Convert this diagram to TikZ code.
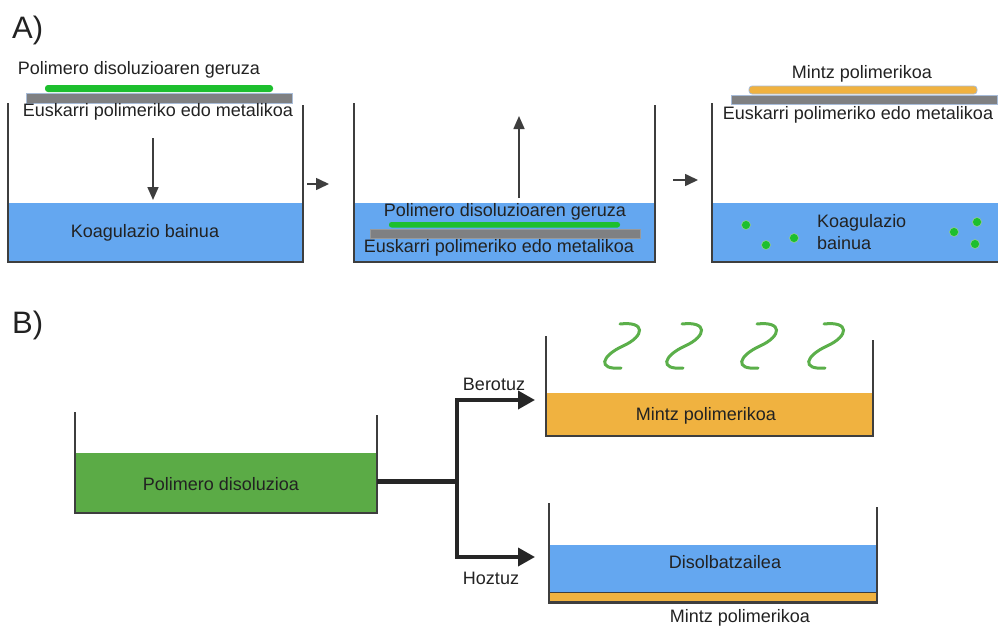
\documentclass[tikz,border=0pt]{standalone}
\usepackage{fontspec}
\setmainfont{Liberation Sans}
\usetikzlibrary{arrows.meta}
\definecolor{wall}{HTML}{3E3E3E}
\definecolor{water}{HTML}{64A7F0}
\definecolor{sol}{HTML}{5BAB46}
\definecolor{mem}{HTML}{F0B240}
\definecolor{film}{HTML}{1DBF2E}
\definecolor{support}{HTML}{7F8082}
\definecolor{supedge}{HTML}{A8BCD8}
\definecolor{txt}{HTML}{222222}
\definecolor{squigc}{HTML}{5BAF4A}
\begin{document}
\begin{tikzpicture}[x=1pt,y=-1pt,
  wallline/.style={draw=wall,line width=2pt},
  thinwall/.style={draw=wall,line width=1.6pt},
  lbl/.style={text=txt,font=\fontsize{18}{21.5}\selectfont,inner sep=0pt,anchor=center},
  big/.style={text=txt,font=\fontsize{31}{34}\selectfont,inner sep=0pt,anchor=base west},
  arr/.style={draw=wall,line width=1.6pt,-{Triangle[length=13pt,width=11pt]}},
  sarr/.style={draw=wall,line width=1.6pt,-{Triangle[length=13pt,width=12pt]}},
  barr/.style={draw=black!85,line width=3.6pt,-{Triangle[length=17pt,width=18pt]}},
  squigline/.style={draw=squigc,line width=3pt,line cap=round},
  dot/.style={fill=film,draw=squigc!60!white,line width=0.5pt},
  squig/.pic={\path[squigline] (18,1) .. controls (44,-2) and (43,13) .. (21,23) .. controls (-1,33) and (-5,47) .. (19,45);}
]
\useasboundingbox (0,0) rectangle (998,626);

% ---------------- A ----------------
\node[big] (labA) at (12,38) {A)};

% beaker 1
\fill[water] (8,203) rectangle (303,262);
\draw[wallline] (8,103) -- (8,262) -- (303,262) -- (303,105);
\node[lbl] (koag1) at (145,233) {Koagulazio bainua};
\draw[supedge,fill=support,line width=0.8pt] (26,93) rectangle (292,103);
\fill[film,rounded corners=3pt] (45,85) rectangle (273,92);
\node[lbl] (ger1) at (139,70) {Polimero disoluzioaren geruza};
\node[lbl] (eusk1) at (158,112) {Euskarri polimeriko edo metalikoa};
\coordinate (d1) at (153,138);
\coordinate (d2) at (153,200);
\draw[arr] (d1) -- (d2);

% arrow 1 -> 2
\coordinate (s1) at (307,184);
\coordinate (s2) at (329,184);
\draw[sarr] (s1) -- (s2);

% beaker 2
\fill[water] (354,203) rectangle (655,262);
\draw[wallline] (354,103) -- (354,262) -- (655,262) -- (655,105);
\node[lbl] (ger2) at (505,212) {Polimero disoluzioaren geruza};
\fill[film,rounded corners=2.5pt] (389,222) rectangle (620,227.5);
\draw[support!80!white,fill=support,line width=0.6pt] (370,229) rectangle (640,238);
\node[lbl] (eusk2) at (499,248) {Euskarri polimeriko edo metalikoa};
\coordinate (u1) at (519,198);
\coordinate (u2) at (519,116);
\draw[arr] (u1) -- (u2);

% arrow 2 -> 3
\coordinate (t1) at (673,180);
\coordinate (t2) at (698,180);
\draw[sarr] (t1) -- (t2);

% beaker 3
\fill[water] (712,203) rectangle (998,262);
\draw[wallline] (712,103) -- (712,262) -- (998,262);
\draw[supedge,fill=support,line width=0.8pt] (731,95) rectangle (997,104);
\draw[supedge,fill=mem,line width=0.8pt,rounded corners=3pt] (749,86) rectangle (977,94);
\node[lbl] (mintz1) at (862,74) {Mintz polimerikoa};
\node[lbl] (eusk3) at (858,115) {Euskarri polimeriko edo metalikoa};
\node[lbl,anchor=west,align=left] (koag3) at (817,232) {Koagulazio\\bainua};
\foreach \x/\y in {746/225, 766/245, 794/238, 954/232, 977/222, 975/244}
  \path[dot] (\x,\y) circle (4.5);

% ---------------- B ----------------
\node[big] (labB) at (12,333) {B)};

% beaker B1
\fill[sol] (75,453) rectangle (377,513);
\draw[thinwall] (75,412) -- (75,513) -- (377,513) -- (377,415);
\node[lbl] (poldis) at (221,484) {Polimero disoluzioa};

% branching arrows
\coordinate (j0) at (377,481);
\coordinate (j1) at (457,481);
\coordinate (jt) at (457,400);
\coordinate (jb) at (457,557);
\coordinate (et) at (535,400);
\coordinate (eb) at (535,557);
\draw[draw=black!85,line width=5pt] (j0) -- (j1);
\draw[barr] (j1) -- (jt) -- (et);
\draw[barr] (j1) -- (jb) -- (eb);
\node[lbl] (bero) at (494,384) {Berotuz};
\node[lbl] (hotz) at (491,578) {Hoztuz};

% beaker B2 (heating)
\fill[mem] (546,393) rectangle (873,436);
\draw[thinwall] (546,336) -- (546,436) -- (873,436) -- (873,340);
\node[lbl] (mintz2) at (706,416) {Mintz polimerikoa};
\foreach \a in {602,664,739,806}
  \pic at (\a,323) {squig};

% beaker B3 (cooling)
\fill[water] (549,545) rectangle (877,592);
\draw[draw=wall,line width=1.2pt,fill=mem] (549,592.5) rectangle (877,602);
\draw[thinwall] (549,503) -- (549,603) -- (877,603) -- (877,507);
\node[lbl] (disol) at (725,562) {Disolbatzailea};
\node[lbl] (mintz3) at (740,618) {Mintz polimerikoa};
\end{tikzpicture}
\end{document}
